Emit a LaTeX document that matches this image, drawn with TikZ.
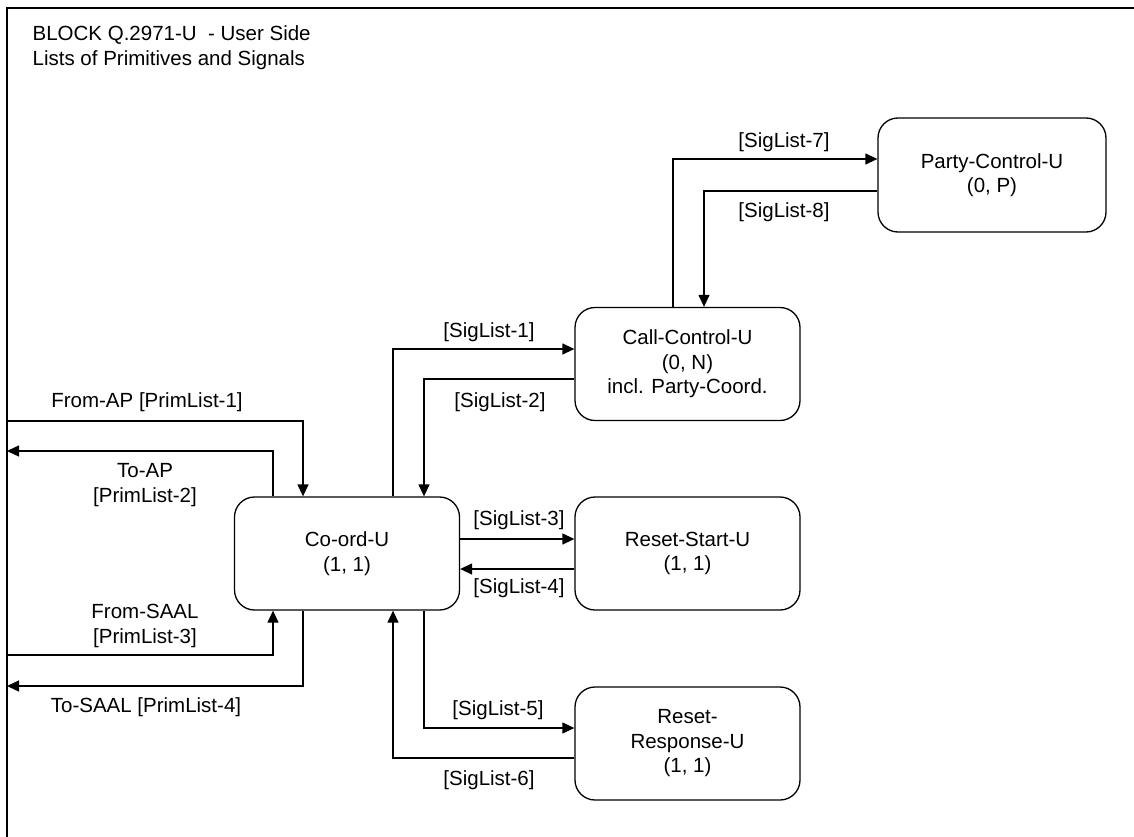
\documentclass[tikz,border=0pt]{standalone}
\usepackage{fontspec}
\setmainfont{Liberation Sans}
\usetikzlibrary{arrows.meta}

\newlength{\du}
\setlength{\du}{1pt}
\newcommand{\lbl}{\fontsize{20.5\du}{24.5\du}\selectfont}

\tikzset{
  procbox/.style={draw, rounded corners=20\du, minimum width=225\du, minimum height=113\du,
    align=center, inner sep=0pt, font=\lbl},
  sigline/.style={-{Triangle[length=12pt,width=11pt]}},
  siglabel/.style={align=center, inner sep=0pt, font=\lbl},
}

\begin{document}
\begin{tikzpicture}[yscale=-1, line width=1.3\du]
\useasboundingbox (0\du,0\du) rectangle (1134\du,837\du);
\definecolor{dialinecolor}{rgb}{0.000000, 0.000000, 0.000000}
% block frame
\draw[line width=1.8\du, dialinecolor] (7\du,837\du) -- (7\du,8\du) -- (1134\du,8\du);
% setfont left to latex
\node[anchor=north west, align=left, inner sep=0pt, font=\lbl] (title) at (32\du,25\du)
  {BLOCK Q.2971-U\ \ - User Side\\Lists of Primitives and Signals};

% processes
\node[procbox] (coord) at (347\du,553.5\du) {Co-ord-U\\(1, 1)};
\node[procbox] (call) at (687.5\du,364\du) {Call-Control-U\\(0, N)\\incl. Party-Coord.};
\node[procbox] (start) at (687.5\du,553.5\du) {Reset-Start-U\\(1, 1)};
\node[procbox] (resp) at (687.5\du,743.5\du) {Reset-\\Response-U\\(1, 1)};
\node[procbox, minimum width=228\du, minimum height=114\du] (party) at (992\du,175\du) {Party-Control-U\\(0, P)};

% environment ends
\coordinate (apin) at (7\du,421\du);
\coordinate (apout) at (7\du,451\du);
\coordinate (saalin) at (7\du,655\du);
\coordinate (saalout) at (7\du,686\du);

% signal routes
\draw[sigline] (apin) -| ([xshift=-44\du]coord.north);
\draw[sigline] ([xshift=-74\du]coord.north) |- (apout);
\draw[sigline] (saalin) -| ([xshift=-74\du]coord.south);
\draw[sigline] ([xshift=-44\du]coord.south) |- (saalout);
\draw[sigline] ([xshift=46\du]coord.north) |- ([yshift=-15\du]call.west);
\draw[sigline] ([yshift=15\du]call.west) -| ([xshift=77\du]coord.north);
\draw[sigline] ([yshift=-14.5\du]coord.east) -- ([yshift=-14.5\du]start.west);
\draw[sigline] ([yshift=15.5\du]start.west) -- ([yshift=15.5\du]coord.east);
\draw[sigline] ([xshift=77\du]coord.south) |- ([yshift=-15.5\du]resp.west);
\draw[sigline] ([yshift=14.5\du]resp.west) -| ([xshift=46\du]coord.south);
\draw[sigline] ([xshift=-14.5\du]call.north) |- ([yshift=-16\du]party.west);
\draw[sigline] ([yshift=16\du]party.west) -| ([xshift=16.5\du]call.north);

% labels
\node[siglabel] (l1) at (489\du,332\du) {[SigList-1]};
\node[siglabel] (l2) at (500\du,402\du) {[SigList-2]};
\node[siglabel] (l3) at (519\du,520\du) {[SigList-3]};
\node[siglabel] (l4) at (519\du,588\du) {[SigList-4]};
\node[siglabel] (l5) at (498\du,710\du) {[SigList-5]};
\node[siglabel] (l6) at (489\du,780\du) {[SigList-6]};
\node[siglabel] (l7) at (784\du,142\du) {[SigList-7]};
\node[siglabel] (l8) at (784\du,212\du) {[SigList-8]};
\node[siglabel] (lap1) at (147\du,402\du) {From-AP [PrimList-1]};
\node[siglabel] (lap2) at (145\du,485\du) {To-AP\\{[PrimList-2]}};
\node[siglabel] (lsa3) at (145\du,626\du) {From-SAAL\\{[PrimList-3]}};
\node[siglabel] (lsa4) at (146\du,707\du) {To-SAAL [PrimList-4]};
\end{tikzpicture}
\end{document}
